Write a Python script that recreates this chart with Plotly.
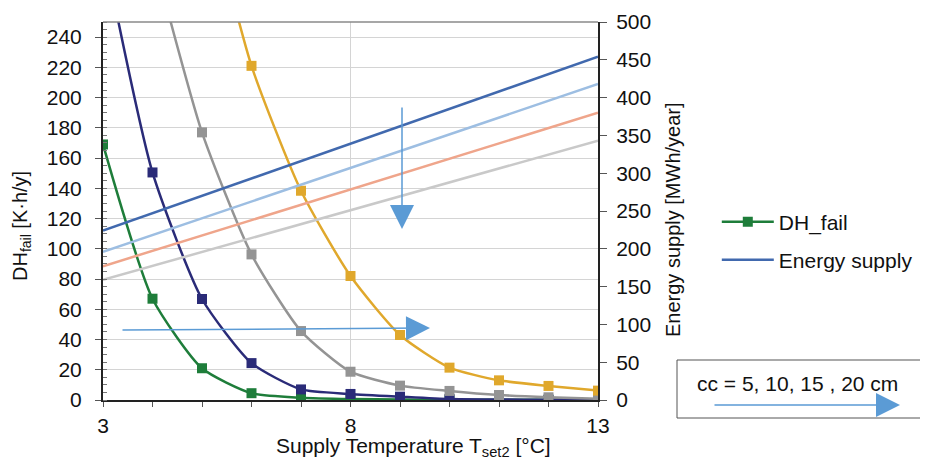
import plotly.graph_objects as go

# ---- data ----
T = [3, 4, 5, 6, 7, 8, 9, 10, 11, 12, 13]
dh_cc5 = [169, 67, 21, 4.5, 1.5, 0.6, 0.3, 0.2, 0.1, 0.1, 0.1]
dh_cc10 = [300, 150.5, 66.8, 24.4, 7, 4, 2.2, 0.6, 0.3, 0.2, 0.2]
dh_cc15 = [420, 295, 177, 96.3, 45.6, 18.7, 9.5, 6, 3.3, 1.8, 0.8]
dh_cc20 = [620, 470, 345, 221, 138.4, 82, 43, 21.4, 13, 9.3, 6.2]

T_energy = [3, 13]
es_cc5 = [224, 454]
es_cc10 = [196, 418]
es_cc15 = [177, 380]
es_cc20 = [159, 343]

x_ticks = [3, 8, 13]

dh_colors = ["#1E7D3A", "#2A2B78", "#949494", "#E0A82C"]
es_colors = ["#4169AE", "#9DBEE2", "#EFA58B", "#C9C9C9"]

FONT = "Liberation Sans, Arial, sans-serif"
FS = 21

fig = go.Figure()

# energy supply lines (secondary axis)
for i, (vals, c) in enumerate(zip([es_cc5, es_cc10, es_cc15, es_cc20], es_colors)):
    fig.add_trace(go.Scatter(
        x=T_energy, y=vals, mode="lines", yaxis="y2",
        line=dict(color=c, width=2.5),
        name="Energy supply", showlegend=(i == 0), legend="legend2",
        cliponaxis=True,
    ))

# DH_fail curves
for i, (vals, c) in enumerate(zip([dh_cc5, dh_cc10, dh_cc15, dh_cc20], dh_colors)):
    fig.add_trace(go.Scatter(
        x=T, y=vals, mode="lines+markers",
        line=dict(color=c, width=2.5, shape="spline", smoothing=0.6),
        marker=dict(symbol="square", size=10, color=c),
        name="DH_fail", showlegend=(i == 0), legend="legend",
        cliponaxis=True,
    ))

# page has an 8px body margin: figure is 920x453, plot area at page (103..598, 22..400)
fig.update_layout(
    width=920, height=453,
    margin=dict(l=95, r=330, t=14, b=61, autoexpand=False),
    paper_bgcolor="white", plot_bgcolor="white",
    font=dict(family=FONT, size=FS, color="#111"),
    xaxis=dict(
        range=[3, 13], tickvals=x_ticks, ticktext=[str(v) for v in x_ticks],
        showgrid=True, gridcolor="#d4d4d4", gridwidth=1,
        showline=True, linecolor="#222", linewidth=2,
        ticks="outside", ticklen=5, tickcolor="#555", tickwidth=1,
        minor=dict(dtick=1, ticks="outside", ticklen=5, tickcolor="#555", showgrid=False),
        ticklabelstandoff=1, zeroline=False, automargin=False,
    ),
    yaxis=dict(
        range=[0, 250], dtick=20, tick0=0,
        showgrid=True, gridcolor="#d4d4d4", gridwidth=1,
        showline=True, linecolor="#222", linewidth=2,
        ticks="outside", ticklen=6, tickcolor="#555", tickwidth=1,
        minor=dict(dtick=5, ticks="inside", ticklen=4, tickcolor="#777", showgrid=False),
        ticklabelstandoff=9, zeroline=False, automargin=False,
    ),
    yaxis2=dict(
        range=[0, 500], dtick=50, tick0=0, overlaying="y", side="right",
        showgrid=False, showline=True, linecolor="#222", linewidth=2,
        ticks="outside", ticklen=7, tickcolor="#555", tickwidth=1,
        ticklabelstandoff=5, zeroline=False, automargin=False,
    ),
    legend=dict(
        x=1.24, y=(400 - 222) / 378, xanchor="left", yanchor="middle",
        font=dict(size=FS, family=FONT), bgcolor="rgba(0,0,0,0)", itemwidth=52,
    ),
    legend2=dict(
        x=1.24, y=(400 - 260) / 378, xanchor="left", yanchor="middle",
        font=dict(size=FS, family=FONT), bgcolor="rgba(0,0,0,0)", itemwidth=52,
    ),
    showlegend=True,
)

def px_x(px):
    return (px - 103) / 495

def px_y(py):
    return (400 - py) / 378

def arrow(x_tip, y_tip, x_tail, y_tail):
    fig.add_annotation(x=px_x(x_tip), y=px_y(y_tip), xref="paper", yref="paper",
                       ax=x_tail - x_tip, ay=y_tail - y_tip, axref="pixel", ayref="pixel",
                       text="", showarrow=True, arrowhead=2, arrowsize=3.2, arrowwidth=1.5,
                       arrowcolor="#5B9BD5", standoff=0)

# top border line
fig.add_shape(type="line", xref="paper", yref="paper", x0=0, x1=1, y0=1, y1=1,
              line=dict(color="#8a8a8a", width=1.5))

# axis titles
fig.add_annotation(text="DH<sub>fail</sub> [K·h/y]", xref="paper", yref="paper",
                   x=px_x(21), y=px_y(226), textangle=-90, showarrow=False,
                   font=dict(size=20, family=FONT), xanchor="center", yanchor="middle")
fig.add_annotation(text="Energy supply [MWh/year]", xref="paper", yref="paper",
                   x=px_x(673), y=px_y(220), textangle=-90, showarrow=False,
                   font=dict(size=20, family=FONT), xanchor="center", yanchor="middle")
fig.add_annotation(text="Supply Temperature T<sub>set2</sub> [°C]", xref="paper", yref="paper",
                   x=px_x(413), y=px_y(447), showarrow=False,
                   font=dict(size=FS, family=FONT), xanchor="center", yanchor="middle")

# arrows in plot
arrow(402, 229, 402, 106)
arrow(430, 328, 121, 330)

# cc box (open on the right: it runs off the edge of the picture)
box_line = dict(color="#555", width=1)
fig.add_shape(type="line", xref="paper", yref="paper",
              x0=px_x(677), x1=px_x(1000), y0=px_y(360), y1=px_y(360), line=box_line)
fig.add_shape(type="line", xref="paper", yref="paper",
              x0=px_x(677), x1=px_x(1000), y0=px_y(418), y1=px_y(418), line=box_line)
fig.add_shape(type="line", xref="paper", yref="paper",
              x0=px_x(677), x1=px_x(677), y0=px_y(360), y1=px_y(418), line=box_line)
fig.add_annotation(text="cc = 5, 10, 15 , 20 cm", xref="paper", yref="paper",
                   x=px_x(797), y=px_y(383), showarrow=False,
                   font=dict(size=FS, family=FONT), xanchor="center", yanchor="middle")
arrow(900, 405, 713, 405)

fig.write_html("out.html")
